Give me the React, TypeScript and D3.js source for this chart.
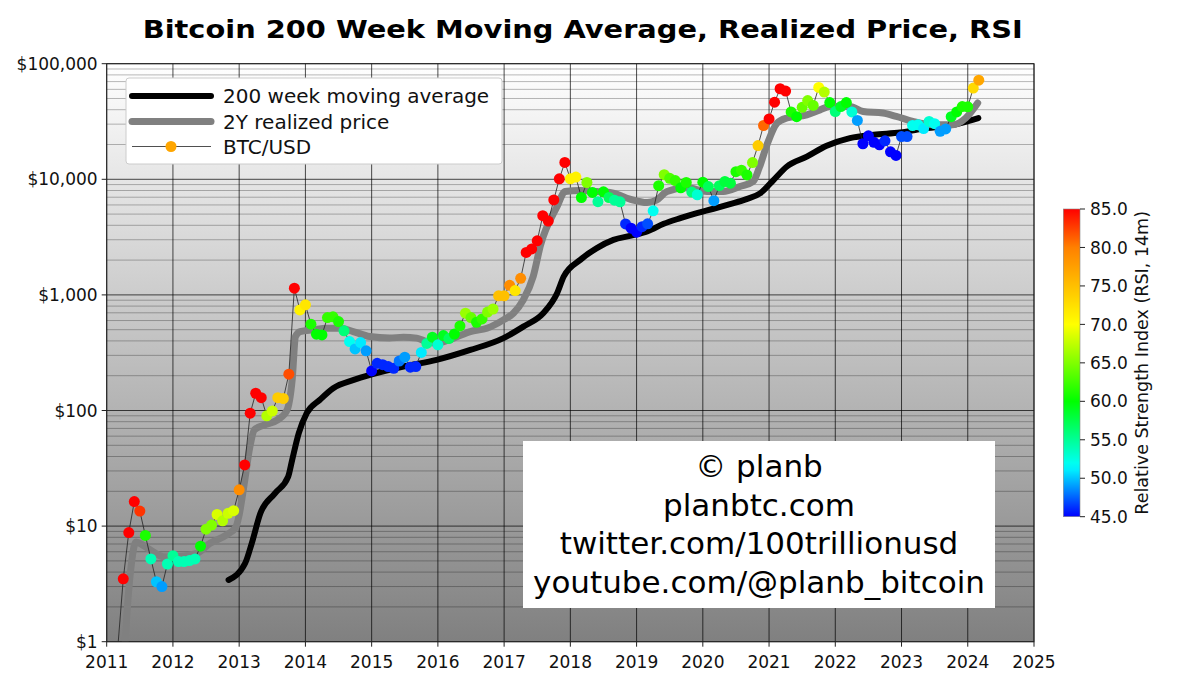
import { useRef, useEffect } from "react";
import * as d3 from "d3";

// monthly BTC/USD, first value is March 2011
const btcStart = 2011 + 2 / 12;
const btcPrice = [
  0.88,
  3.5, 8.8, 16.3, 13.5, 8.3, 5.2, 3.3, 3.0, 4.7, 5.55,
  4.93, 4.93, 5.03, 5.2, 6.7, 9.4, 10.2, 12.6, 11.1, 12.9, 13.6,
  20.6, 33.8, 94.8, 141, 129, 90, 99, 129, 127, 206, 1143, 742,
  820, 558, 457, 451, 637, 646, 588, 489, 395, 341, 387, 328,
  220, 256, 249, 240, 232, 268, 289, 237, 240, 318, 380, 431,
  370, 445, 419, 459, 539, 695, 637, 580, 620, 711, 755, 982,
  982, 1210, 1090, 1390, 2330, 2500, 2937, 4840, 4348, 6630, 10100, 14000,
  10100, 10460, 6960, 9380, 7700, 6400, 7800, 6960, 6600, 6380, 4110, 3780,
  3490, 3890, 4120, 5340, 8800, 10970, 10200, 9760, 8430, 9380, 7750, 7350,
  9440, 8660, 6530, 8800, 9570, 9250, 11630, 11990, 10900, 13970, 19600, 29200,
  33300, 46500, 60700, 58000, 38300, 34800, 41900, 48000, 43600, 62300, 56800, 46100,
  38500, 42600, 46100, 38300, 32300, 20300, 23800, 20900, 19900, 21500, 17300, 16100,
  23400, 23400, 29200, 29600, 27500, 31700, 30300, 26000, 27300, 34800, 38300, 42600,
  42400, 61600, 72000,
];
const btcRsi: (number | null)[] = [
  null,
  85, 85, 85, 83, 61, 54, 50, 49, 54, 55,
  54, 54, 54, 54, 60, 65, 65, 68.5, 67, 68, 68.5,
  79, 85, 85, 85, 85, 67, 68, 74, 74, 82, 85, 71,
  72, 61, 60, 60, 62, 62, 61, 56, 52, 50, 51, 49,
  45, 46, 46, 46, 46, 48, 49, 46, 46, 51, 55, 59,
  53, 59, 57, 60, 61, 66, 64, 61, 62, 65, 66, 75,
  75, 79, 72, 79, 85, 85, 85, 85, 85, 85, 85, 85,
  71, 71, 60, 65, 60, 55, 60, 57, 55, 55, 46, 45,
  45, 46, 47, 52, 61, 65, 63, 62, 60, 61, 56, 53,
  60, 57, 49, 57, 58, 58, 61, 62, 61, 65, 74, 81,
  85, 85, 85, 85, 61, 60, 64, 65, 64, 70, 67, 60,
  56, 59, 60, 53, 49, 45, 45, 45, 45, 46, 45, 45,
  47, 47, 52, 52, 51, 53, 52, 49, 49, 59, 60, 61,
  61, 73, 77,
];

const wma200: [number, number][] = [
  [2012.84, 3.42], [2013.09, 4.77], [2013.19, 7.1], [2013.32, 12.9], [2013.54, 19.2],
  [2013.74, 26.8], [2013.8, 37.3], [2013.9, 63.6], [2014.02, 94.8], [2014.22, 124],
  [2014.42, 156], [2014.73, 184], [2015.0, 205], [2015.48, 240], [2015.98, 274],
  [2016.49, 334], [2016.99, 423], [2017.29, 532], [2017.59, 695], [2017.8, 1035],
  [2017.9, 1442], [2018.15, 2010], [2018.4, 2540], [2018.65, 2990], [2018.9, 3240],
  [2019.16, 3535], [2019.41, 4120], [2019.66, 4610], [2019.91, 5100], [2020.16, 5560],
  [2020.41, 6100], [2020.66, 6740], [2020.87, 7590], [2021.07, 9900], [2021.27, 12900],
  [2021.57, 15700], [2021.87, 19500], [2022.22, 22700], [2022.58, 24300], [2022.98, 25400],
  [2023.38, 27700], [2023.78, 29600], [2024.16, 33900],
];

const realized: [number, number][] = [
  [2011.25, 0.5], [2011.31, 1.9], [2011.38, 5.1], [2011.44, 7.3], [2011.52, 7.0],
  [2011.66, 6.2], [2011.86, 5.44], [2012.06, 5.44], [2012.36, 5.8], [2012.56, 7.1],
  [2012.81, 8.4], [2012.95, 9.8], [2013.0, 12.5], [2013.08, 24], [2013.16, 48],
  [2013.23, 68], [2013.38, 75], [2013.58, 83], [2013.72, 100], [2013.8, 184],
  [2013.85, 436], [2013.92, 482], [2014.12, 499], [2014.32, 515], [2014.52, 515],
  [2014.72, 482], [2014.97, 436], [2015.27, 423], [2015.48, 431], [2015.68, 423],
  [2015.83, 395], [2015.98, 382], [2016.24, 423], [2016.49, 482], [2016.74, 515],
  [2016.99, 608], [2017.14, 695], [2017.29, 906], [2017.44, 1450], [2017.55, 2700],
  [2017.8, 5820], [2017.92, 7840], [2018.15, 8000], [2018.4, 7840], [2018.65, 7590],
  [2018.9, 6740], [2019.16, 6300], [2019.3, 6600], [2019.46, 7840], [2019.76, 8430],
  [2020.06, 7840], [2020.31, 7840], [2020.56, 8660], [2020.76, 9570], [2020.85, 12500],
  [2020.97, 20000], [2021.12, 30600], [2021.27, 33900], [2021.57, 36100], [2021.77, 39900],
  [2021.92, 42600], [2022.22, 42700], [2022.42, 38600], [2022.72, 37400], [2022.92, 35000],
  [2023.17, 31700], [2023.47, 29600], [2023.77, 29600], [2023.97, 33900], [2024.15, 45700],
];

const yearTicks = d3.range(2011, 2026);
const priceTicks = [1, 10, 100, 1000, 10000, 100000];
const rsiTicks = [45, 50, 55, 60, 65, 70, 75, 80, 85];
const rsiStops = [45, 51.5, 60, 70, 80, 85];
const rsiColors = ["#0000ff", "#00ffff", "#00ff00", "#ffff00", "#ff8000", "#ff0000"];
const legendLabels = ["200 week moving average", "2Y realized price", "BTC/USD"];
const watermark = ["© planb", "planbtc.com", "twitter.com/100trillionusd", "youtube.com/@planb_bitcoin"];

const FONT = "DejaVu Sans, Verdana, sans-serif";

export default function App() {
  const svgRef = useRef<SVGSVGElement>(null);

  useEffect(() => {
    document.body.style.margin = "0";
    if (!svgRef.current) return;
    const svg = d3.select(svgRef.current);
    svg.selectAll("*").remove();

    const width = 1200;
    const height = 685;
    const plot = { left: 106.7, right: 1034, top: 63.7, bottom: 641.7 };

    const x = d3.scaleLinear().domain([2011, 2025]).range([plot.left, plot.right]);
    const y = d3.scaleLog().domain([1, 100000]).range([plot.bottom, plot.top]);
    const color = d3
      .scaleLinear<string>()
      .domain(rsiStops)
      .range(rsiColors)
      .clamp(true);

    svg.attr("viewBox", `0 0 ${width} ${height}`).attr("font-family", FONT);

    svg.append("rect").attr("width", width).attr("height", height).attr("fill", "#ffffff");

    const defs = svg.append("defs");
    const bg = defs
      .append("linearGradient")
      .attr("id", "bg")
      .attr("x1", 0).attr("y1", 0).attr("x2", 0).attr("y2", 1);
    bg.append("stop").attr("offset", "0%").attr("stop-color", "#ffffff");
    bg.append("stop").attr("offset", "100%").attr("stop-color", "#808080");

    defs
      .append("clipPath")
      .attr("id", "plotclip")
      .append("rect")
      .attr("x", plot.left)
      .attr("y", plot.top)
      .attr("width", plot.right - plot.left)
      .attr("height", plot.bottom - plot.top);

    svg
      .append("rect")
      .attr("x", plot.left)
      .attr("y", plot.top)
      .attr("width", plot.right - plot.left)
      .attr("height", plot.bottom - plot.top)
      .attr("fill", "url(#bg)");

    // Grid
    const minor: number[] = [];
    for (let d = 1; d < 100000; d *= 10) {
      for (let k = 2; k <= 9; k++) minor.push(d * k);
    }
    svg.append("g")
      .selectAll("line")
      .data(minor)
      .join("line")
      .attr("x1", plot.left)
      .attr("x2", plot.right)
      .attr("y1", (d) => y(d))
      .attr("y2", (d) => y(d))
      .attr("stroke", "#000")
      .attr("stroke-opacity", 0.35)
      .attr("stroke-width", 0.8);

    svg.append("g")
      .selectAll("line")
      .data(priceTicks)
      .join("line")
      .attr("x1", plot.left)
      .attr("x2", plot.right)
      .attr("y1", (d) => y(d))
      .attr("y2", (d) => y(d))
      .attr("stroke", "#000")
      .attr("stroke-opacity", 0.7)
      .attr("stroke-width", 1);

    svg.append("g")
      .selectAll("line")
      .data(yearTicks)
      .join("line")
      .attr("x1", (d) => x(d))
      .attr("x2", (d) => x(d))
      .attr("y1", plot.top)
      .attr("y2", plot.bottom)
      .attr("stroke", "#000")
      .attr("stroke-opacity", 0.7)
      .attr("stroke-width", 1);

    const g = svg.append("g").attr("clip-path", "url(#plotclip)");

    const line = d3
      .line<[number, number]>()
      .x((d) => x(d[0]))
      .y((d) => y(d[1]))
      .curve(d3.curveMonotoneX);

    g.append("path")
      .datum(wma200)
      .attr("d", line)
      .attr("fill", "none")
      .attr("stroke", "#000")
      .attr("stroke-width", 6)
      .attr("stroke-linecap", "round")
      .attr("stroke-linejoin", "round");

    g.append("path")
      .datum(realized)
      .attr("d", line)
      .attr("fill", "none")
      .attr("stroke", "#808080")
      .attr("stroke-width", 7)
      .attr("stroke-linecap", "round")
      .attr("stroke-linejoin", "round");

    const btc = btcPrice.map((p, i) => ({
      t: btcStart + i / 12,
      p,
      rsi: btcRsi[i],
    }));

    g.append("path")
      .datum(btc)
      .attr(
        "d",
        d3
          .line<(typeof btc)[0]>()
          .x((d) => x(d.t))
          .y((d) => y(d.p))
      )
      .attr("fill", "none")
      .attr("stroke", "#222")
      .attr("stroke-width", 0.8);

    g.selectAll("circle")
      .data(btc.filter((d) => d.rsi !== null))
      .join("circle")
      .attr("cx", (d) => x(d.t))
      .attr("cy", (d) => y(d.p))
      .attr("r", 5.5)
      .attr("fill", (d) => color(d.rsi as number));

    // Frame
    svg
      .append("rect")
      .attr("x", plot.left)
      .attr("y", plot.top)
      .attr("width", plot.right - plot.left)
      .attr("height", plot.bottom - plot.top)
      .attr("fill", "none")
      .attr("stroke", "#222")
      .attr("stroke-width", 1);

    // Axes
    const yAxis = svg.append("g");
    yAxis
      .selectAll("line")
      .data(priceTicks)
      .join("line")
      .attr("x1", plot.left - 5)
      .attr("x2", plot.left)
      .attr("y1", (d) => y(d))
      .attr("y2", (d) => y(d))
      .attr("stroke", "#222");
    yAxis
      .selectAll("text")
      .data(priceTicks)
      .join("text")
      .attr("x", plot.left - 9)
      .attr("y", (d) => y(d))
      .attr("dy", "0.36em")
      .attr("text-anchor", "end")
      .attr("font-size", "17px")
      .attr("fill", "#111")
      .text((d) => "$" + d3.format(",")(d));

    const xAxis = svg.append("g");
    xAxis
      .selectAll("line")
      .data(yearTicks)
      .join("line")
      .attr("x1", (d) => x(d))
      .attr("x2", (d) => x(d))
      .attr("y1", plot.bottom)
      .attr("y2", plot.bottom + 5)
      .attr("stroke", "#222");
    xAxis
      .selectAll("text")
      .data(yearTicks)
      .join("text")
      .attr("x", (d) => x(d))
      .attr("y", plot.bottom + 26)
      .attr("text-anchor", "middle")
      .attr("font-size", "17px")
      .attr("fill", "#111")
      .text((d) => String(d));

    // Title
    svg
      .append("text")
      .attr("x", 142.7)
      .attr("y", 37.5)
      .attr("font-size", "25.5px")
      .attr("font-weight", "bold")
      .attr("fill", "#000")
      .attr("textLength", 880)
      .attr("lengthAdjust", "spacingAndGlyphs")
      .text("Bitcoin 200 Week Moving Average, Realized Price, RSI");

    // Legend
    const lg = svg.append("g");
    lg.append("rect")
      .attr("x", 126)
      .attr("y", 78)
      .attr("width", 376)
      .attr("height", 86)
      .attr("rx", 3)
      .attr("fill", "#ffffff")
      .attr("stroke", "#cccccc");
    const rows = [96, 121.5, 146.5];
    lg.append("line")
      .attr("x1", 132).attr("x2", 211).attr("y1", rows[0]).attr("y2", rows[0])
      .attr("stroke", "#000").attr("stroke-width", 6).attr("stroke-linecap", "round");
    lg.append("line")
      .attr("x1", 132).attr("x2", 211).attr("y1", rows[1]).attr("y2", rows[1])
      .attr("stroke", "#808080").attr("stroke-width", 7).attr("stroke-linecap", "round");
    lg.append("line")
      .attr("x1", 132).attr("x2", 211).attr("y1", rows[2]).attr("y2", rows[2])
      .attr("stroke", "#222").attr("stroke-width", 0.8);
    lg.append("circle")
      .attr("cx", 171).attr("cy", rows[2]).attr("r", 5.5).attr("fill", color(77));
    lg.selectAll("text")
      .data(legendLabels)
      .join("text")
      .attr("x", 223)
      .attr("y", (_, i) => rows[i])
      .attr("dy", "0.36em")
      .attr("font-size", "20px")
      .attr("fill", "#111")
      .text((d) => d);

    // Watermark
    const wm = svg.append("g");
    wm.append("rect")
      .attr("x", 523)
      .attr("y", 441)
      .attr("width", 472)
      .attr("height", 167)
      .attr("fill", "#ffffff");
    wm.selectAll("text")
      .data(watermark)
      .join("text")
      .attr("x", 759)
      .attr("y", (_, i) => 477 + i * 38.6)
      .attr("text-anchor", "middle")
      .attr("font-size", "31px")
      .attr("fill", "#000")
      .text((d) => d);

    // Colorbar
    const cb = { x: 1063.3, w: 16.7 };
    const cy = d3.scaleLinear().domain([45, 85]).range([516.7, 209]);
    const cg = defs
      .append("linearGradient")
      .attr("id", "rsigrad")
      .attr("x1", 0).attr("y1", 1).attr("x2", 0).attr("y2", 0);
    cg.selectAll("stop")
      .data(d3.range(45, 85.01, 1))
      .join("stop")
      .attr("offset", (d) => `${((d - 45) / 40) * 100}%`)
      .attr("stop-color", (d) => color(d));
    svg
      .append("rect")
      .attr("x", cb.x)
      .attr("y", cy(85))
      .attr("width", cb.w)
      .attr("height", cy(45) - cy(85))
      .attr("fill", "url(#rsigrad)")
      .attr("stroke", "#888")
      .attr("stroke-width", 0.6);
    const cAxis = svg.append("g");
    cAxis
      .selectAll("line")
      .data(rsiTicks)
      .join("line")
      .attr("x1", cb.x + cb.w)
      .attr("x2", cb.x + cb.w + 5)
      .attr("y1", (d) => cy(d))
      .attr("y2", (d) => cy(d))
      .attr("stroke", "#222");
    cAxis
      .selectAll("text")
      .data(rsiTicks)
      .join("text")
      .attr("x", cb.x + cb.w + 10)
      .attr("y", (d) => cy(d))
      .attr("dy", "0.36em")
      .attr("font-size", "17px")
      .attr("fill", "#111")
      .text((d) => d.toFixed(1));
    svg
      .append("text")
      .attr("transform", `translate(1141.5,${(cy(45) + cy(85)) / 2}) rotate(-90)`)
      .attr("text-anchor", "middle")
      .attr("dy", "0.36em")
      .attr("font-size", "17.5px")
      .attr("fill", "#111")
      .text("Relative Strength Index (RSI, 14m)");
  }, []);

  return (
    <div style={{ width: 1200, height: 685 }}>
      <svg ref={svgRef} width={1200} height={685} style={{ display: "block" }} />
    </div>
  );
}
